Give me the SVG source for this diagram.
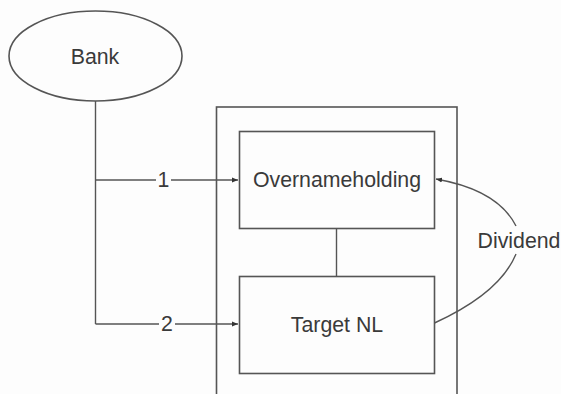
<svg xmlns="http://www.w3.org/2000/svg" width="561" height="394" viewBox="0 0 561 394">
<defs>
<marker id="ah" viewBox="0 0 10 10" refX="10" refY="5" markerWidth="6" markerHeight="6" markerUnits="userSpaceOnUse" orient="auto">
<path d="M0,1 L10,5 L0,9 Z" fill="#333"/>
</marker>
<style>
.shape{fill:none;stroke:#555;stroke-width:1.6}
.conn{fill:none;stroke:#555;stroke-width:1.4}
.lbl{font-family:"Liberation Sans",Arial,sans-serif;font-size:21.3px;fill:#3a3a3a;text-anchor:middle;dominant-baseline:central}
</style>
</defs>
<rect width="561" height="394" fill="#fdfdfd"/>
<g id="container">
<rect class="shape" x="216.5" y="107" width="240.5" height="300"/>
</g>
<g id="bank">
<ellipse class="shape" cx="95.5" cy="56" rx="86.5" ry="45"/>
<text class="lbl" x="95" y="57">Bank</text>
</g>
<g id="overnameholding">
<rect class="shape" x="239.5" y="131.5" width="195" height="97"/>
<text class="lbl" x="337" y="180">Overnameholding</text>
</g>
<g id="target">
<rect class="shape" x="239.5" y="276.5" width="195" height="97"/>
<text class="lbl" x="337" y="325">Target NL</text>
</g>
<g id="connectors">
<path class="conn" d="M95.5,101 V324"/>
<path class="conn" d="M95.5,180 H156"/>
<path class="conn" d="M171,180 H238" marker-end="url(#ah)"/>
<text class="lbl" x="163.5" y="180">1</text>
<path class="conn" d="M95.5,324 H159"/>
<path class="conn" d="M175,324 H238" marker-end="url(#ah)"/>
<text class="lbl" x="167" y="324">2</text>
<path class="conn" d="M336.5,228.5 V276.5"/>
<path class="conn" d="M434.5,323 Q500,293 516,254"/>
<path class="conn" d="M516,226 Q498,190 436,179" marker-end="url(#ah)"/>
<text class="lbl" x="519" y="241">Dividend</text>
</g>
</svg>
